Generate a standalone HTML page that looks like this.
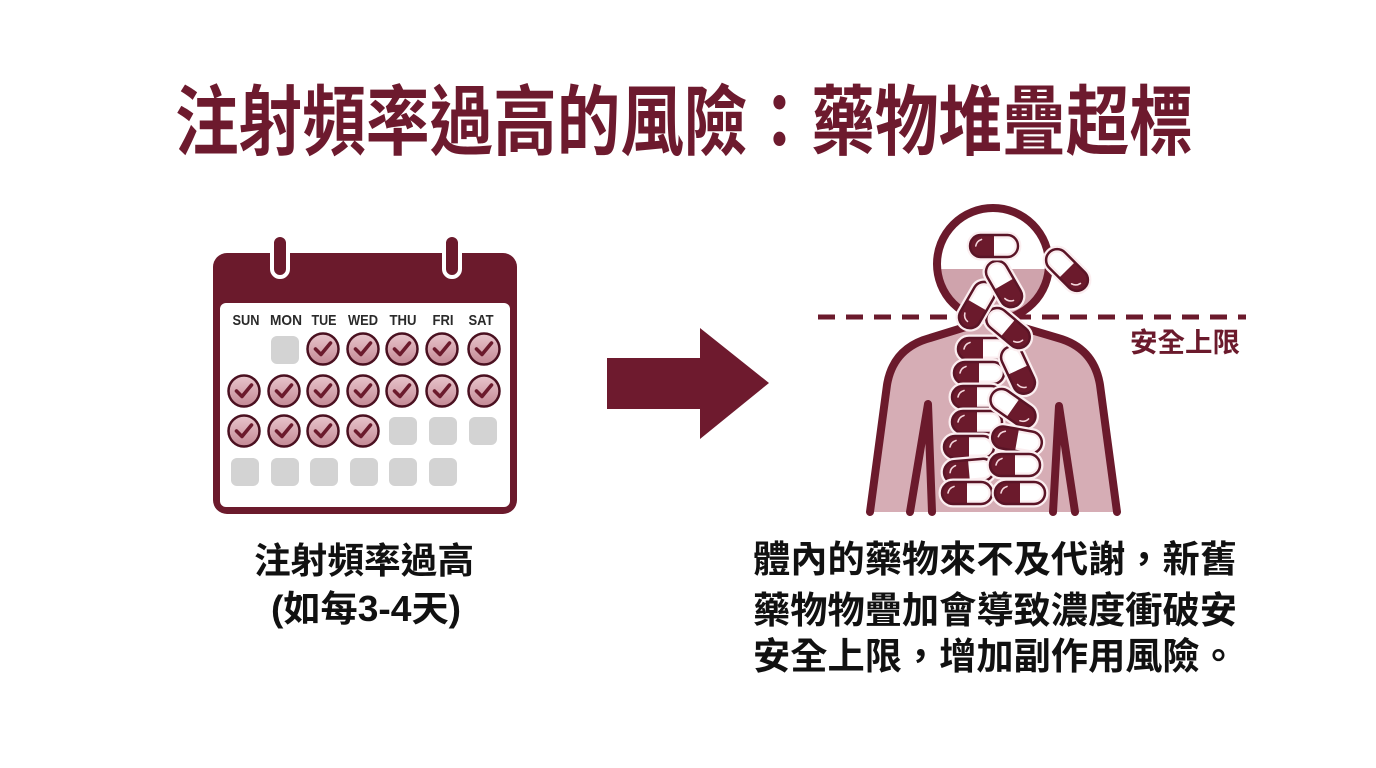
<!DOCTYPE html>
<html><head><meta charset="utf-8">
<style>
html,body{margin:0;padding:0;background:#fff;}
svg{display:block;}
text{font-family:"Liberation Sans","Noto Sans CJK TC","Noto Sans CJK SC",sans-serif;font-weight:bold;}
</style></head>
<body>
<svg width="1376" height="768" viewBox="0 0 1376 768" xmlns="http://www.w3.org/2000/svg">
<defs>
  <linearGradient id="cg" x1="0" y1="0" x2="0" y2="1">
    <stop offset="0" stop-color="#e9c6cd"/>
    <stop offset="1" stop-color="#c38894"/>
  </linearGradient>
  <g id="chk">
    <circle r="15.5" fill="url(#cg)" stroke="#4a1020" stroke-width="2.5"/>
    <path d="M-7.5,0 L-2,5.5 L7.5,-6" fill="none" stroke="#6b1a2c" stroke-width="3.6" stroke-linecap="round" stroke-linejoin="round"/>
  </g>
  <rect id="sq" x="-14" y="-14" width="28" height="28" rx="6" fill="#d3d3d3"/>
  <g id="p">
    <rect x="-25" y="-11" width="50" height="22" rx="11" fill="#fff" stroke="#fbeef0" stroke-width="7"/>
    <path d="M0,-11 H-14 A11,11 0 0 0 -14,11 H0 Z" fill="#6b1a2c"/>
    <rect x="-25" y="-11" width="50" height="22" rx="11" fill="none" stroke="#5a1426" stroke-width="2.5"/>
    <path d="M-19,0 Q-18,-5 -13,-6.5" fill="none" stroke="#f3d5db" stroke-width="1.6" stroke-linecap="round"/>
  </g>
  <clipPath id="headclip"><rect x="900" y="269" width="200" height="100"/></clipPath>
</defs>

<rect width="1376" height="768" fill="#ffffff"/>

<!-- Title -->
<g transform="translate(0,149) scale(1,1.2)">
  <text x="175" y="0" font-size="64" fill="#6d1a2e" textLength="1018" lengthAdjust="spacingAndGlyphs">注射頻率過高的風險：藥物堆疊超標</text>
</g>

<!-- Calendar -->
<rect x="213" y="253" width="304" height="261" rx="14" fill="#6b1a2c"/>
<rect x="220" y="303" width="290" height="204" rx="6" fill="#ffffff"/>
<rect x="272" y="235" width="16" height="42" rx="8" fill="#6b1a2c" stroke="#ffffff" stroke-width="4"/>
<rect x="444" y="235" width="16" height="42" rx="8" fill="#6b1a2c" stroke="#ffffff" stroke-width="4"/>

<g font-size="15" fill="#2a2a2a" text-anchor="middle">
  <text x="246" y="325" textLength="27" lengthAdjust="spacingAndGlyphs">SUN</text>
  <text x="286" y="325" textLength="32" lengthAdjust="spacingAndGlyphs">MON</text>
  <text x="324" y="325" textLength="25" lengthAdjust="spacingAndGlyphs">TUE</text>
  <text x="363" y="325" textLength="30" lengthAdjust="spacingAndGlyphs">WED</text>
  <text x="403" y="325" textLength="27" lengthAdjust="spacingAndGlyphs">THU</text>
  <text x="443" y="325" textLength="21" lengthAdjust="spacingAndGlyphs">FRI</text>
  <text x="481" y="325" textLength="25" lengthAdjust="spacingAndGlyphs">SAT</text>
</g>

<!-- row 1 -->
<use href="#sq" x="285" y="350"/>
<use href="#chk" x="323" y="349"/>
<use href="#chk" x="363" y="349"/>
<use href="#chk" x="402" y="349"/>
<use href="#chk" x="442" y="349"/>
<use href="#chk" x="484" y="349"/>
<!-- row 2 -->
<use href="#chk" x="244" y="391"/>
<use href="#chk" x="284" y="391"/>
<use href="#chk" x="323" y="391"/>
<use href="#chk" x="363" y="391"/>
<use href="#chk" x="402" y="391"/>
<use href="#chk" x="442" y="391"/>
<use href="#chk" x="484" y="391"/>
<!-- row 3 -->
<use href="#chk" x="244" y="431"/>
<use href="#chk" x="284" y="431"/>
<use href="#chk" x="323" y="431"/>
<use href="#chk" x="363" y="431"/>
<use href="#sq" x="403" y="431"/>
<use href="#sq" x="443" y="431"/>
<use href="#sq" x="483" y="431"/>
<!-- row 4 -->
<use href="#sq" x="245" y="472"/>
<use href="#sq" x="285" y="472"/>
<use href="#sq" x="324" y="472"/>
<use href="#sq" x="364" y="472"/>
<use href="#sq" x="403" y="472"/>
<use href="#sq" x="443" y="472"/>

<!-- Left caption -->
<g font-size="36" fill="#111" text-anchor="middle">
  <text x="364" y="573" textLength="220" lengthAdjust="spacingAndGlyphs">注射頻率過高</text>
  <text x="366" y="621" textLength="190" lengthAdjust="spacingAndGlyphs">(如每3-4天)</text>
</g>

<!-- Arrow -->
<polygon points="607,358 700,358 700,328 769,383 700,439 700,409 607,409" fill="#6e1a2e"/>

<!-- Figure: body -->
<path d="M870,512 L887,385 Q893,348 930,338 L972,324 L1014,324 L1058,338 Q1094,348 1100,385 L1117,512 Z" fill="#d6adb5"/>
<!-- head fill -->
<circle cx="993" cy="264" r="56" fill="#cfa3ac" clip-path="url(#headclip)"/>
<circle cx="993" cy="264" r="56" fill="none" stroke="#6b1a2c" stroke-width="8"/>
<!-- body outline -->
<path d="M870,512 L887,385 Q893,348 930,338 L972,325" fill="none" stroke="#6b1a2c" stroke-width="8" stroke-linecap="round" stroke-linejoin="round"/>
<path d="M1117,512 L1100,385 Q1094,348 1058,338 L1014,325" fill="none" stroke="#6b1a2c" stroke-width="8" stroke-linecap="round" stroke-linejoin="round"/>
<path d="M910,512 L928,404 L932,512" fill="none" stroke="#6b1a2c" stroke-width="8" stroke-linecap="round" stroke-linejoin="round"/>
<path d="M1053,512 L1059,406 L1075,512" fill="none" stroke="#6b1a2c" stroke-width="8" stroke-linecap="round" stroke-linejoin="round"/>

<!-- Dashed safety line -->
<line x1="818" y1="317" x2="1246" y2="317" stroke="#6b1a2c" stroke-width="5" stroke-dasharray="17 11"/>
<text x="1130" y="352" font-size="27" fill="#6b1a2c" textLength="110" lengthAdjust="spacingAndGlyphs">安全上限</text>

<!-- Pills: left column -->
<use href="#p" transform="translate(983,349)"/>
<use href="#p" transform="translate(979,373)"/>
<use href="#p" transform="translate(977,397)"/>
<use href="#p" transform="translate(977,422)"/>
<use href="#p" transform="translate(969,447)"/>
<use href="#p" transform="translate(969,471) rotate(-5)"/>
<use href="#p" transform="translate(967,493)"/>
<!-- right column -->
<use href="#p" transform="translate(1018,370) rotate(245)"/>
<use href="#p" transform="translate(1013,408) rotate(215)"/>
<use href="#p" transform="translate(1017,440) rotate(10)"/>
<use href="#p" transform="translate(1015,465)"/>
<use href="#p" transform="translate(1020,493)"/>
<!-- upper tumbling pills -->
<use href="#p" transform="translate(1008,328) rotate(220)"/>
<use href="#p" transform="translate(977,305) rotate(300)"/>
<use href="#p" transform="translate(1004,284) rotate(240)"/>
<use href="#p" transform="translate(1067,270) rotate(225)"/>
<use href="#p" transform="translate(994,246) scale(0.96,1)"/>

<!-- Right paragraph -->
<g font-size="37" fill="#111">
  <text x="753" y="572" textLength="484" lengthAdjust="spacingAndGlyphs">體內的藥物來不及代謝，新舊</text>
  <text x="753" y="623" textLength="484" lengthAdjust="spacingAndGlyphs">藥物物疊加會導致濃度衝破安</text>
  <text x="753" y="669" textLength="484" lengthAdjust="spacingAndGlyphs">安全上限，增加副作用風險。</text>
</g>
</svg>
</body></html>
